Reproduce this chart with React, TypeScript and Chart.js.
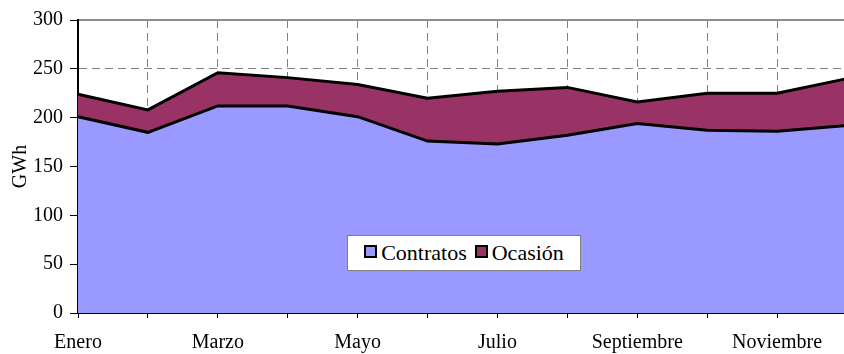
import React, { useEffect, useRef } from "react";
import { Chart, registerables } from "chart.js";

Chart.register(...registerables);

const months = [
  "Enero", "Febrero", "Marzo", "Abril", "Mayo", "Junio",
  "Julio", "Agosto", "Septiembre", "Octubre", "Noviembre", "Diciembre",
];
const contratos = [201, 185, 212, 212, 201, 176, 173, 182, 194, 187, 186, 192];
const ocasion = [23, 23, 34, 29, 33, 44, 54, 49, 22, 38, 39, 48];
const yTicks = [0, 50, 100, 150, 200, 250, 300];

const FONT = "'Liberation Serif', 'Times New Roman', serif";
const BLUE = "#9999FF";
const MAROON = "#993366";

export default function App() {
  const ref = useRef<HTMLCanvasElement | null>(null);

  useEffect(() => {
    if (!ref.current) return;
    const chart = new Chart(ref.current, {
      type: "line",
      data: {
        labels: months,
        datasets: [
          {
            label: "Contratos",
            data: contratos,
            backgroundColor: BLUE,
            borderColor: "#000000",
            borderWidth: 3,
            pointRadius: 0,
            fill: "origin",
            tension: 0,
          },
          {
            label: "Ocasión",
            data: ocasion,
            backgroundColor: MAROON,
            borderColor: "#000000",
            borderWidth: 3,
            pointRadius: 0,
            fill: "-1",
            tension: 0,
          },
        ],
      },
      options: {
        animation: false,
        responsive: true,
        maintainAspectRatio: false,
        layout: { padding: { left: 0, right: 12, top: 0, bottom: 0 } },
        plugins: { legend: { display: false }, tooltip: { enabled: false } },
        scales: {
          x: {
            type: "category",
            position: "bottom",
            offset: false,
            grid: {
              display: true,
              color: "#808080",
              lineWidth: 1,
              offset: false,
              drawTicks: true,
              tickLength: 5,
              tickColor: "#000000",
              tickBorderDash: [],
            },
            border: { display: true, color: "#000000", width: 2, dash: [8, 5] },
            ticks: {
              autoSkip: false,
              maxRotation: 0,
              minRotation: 0,
              padding: 13,
              color: "#000000",
              font: { family: FONT, size: 20 },
              callback: (_v: any, i: number) => (i % 2 === 0 ? months[i] : ""),
            },
            afterFit: (s: any) => {
              s.height = 41;
            },
          },
          x2: {
            type: "category",
            position: "top",
            labels: months,
            offset: false,
            grid: { display: false, drawTicks: false },
            ticks: { display: false },
            border: { display: true, color: "#8c8c8c", width: 2 },
            afterFit: (s: any) => {
              s.height = 20;
            },
          },
          y: {
            stacked: true,
            min: 0,
            max: 300,
            afterBuildTicks: (s: any) => {
              s.ticks = yTicks.map((v) => ({ value: v }));
            },
            grid: {
              color: "#808080",
              lineWidth: 1,
              drawTicks: true,
              tickLength: 8,
              tickColor: "#000000",
              tickBorderDash: [],
            },
            border: { display: true, color: "#000000", width: 2, dash: [8, 5] },
            ticks: {
              padding: 7,
              color: "#000000",
              font: { family: FONT, size: 20 },
            },
            title: {
              display: true,
              text: "GWh",
              color: "#000000",
              font: { family: FONT, size: 20 },
              padding: { top: 9, bottom: 0 },
            },
            afterFit: (s: any) => {
              s.width = 78;
            },
          },
        },
      },
    });
    return () => chart.destroy();
  }, []);

  const box = (color: string) => (
    <span
      style={{
        display: "inline-block",
        width: 9,
        height: 9,
        border: "2px solid #000",
        background: color,
        marginRight: 4,
        verticalAlign: "middle",
        position: "relative",
        top: -2,
      }}
    />
  );

  return (
    <div
      style={{
        position: "fixed",
        left: 0,
        top: 0,
        width: 844,
        height: 354,
        overflow: "hidden",
        background: "#fff",
      }}
    >
      <div style={{ position: "absolute", left: 0, top: 0, width: 860, height: 354 }}>
        <canvas ref={ref} />
      </div>
      <div
        style={{
          position: "absolute",
          left: 347,
          top: 235,
          width: 232,
          height: 34,
          border: "1px solid #808080",
          background: "#ffffff",
          fontFamily: FONT,
          fontSize: 22,
          color: "#000",
          display: "flex",
          alignItems: "center",
          justifyContent: "center",
          whiteSpace: "nowrap",
          boxSizing: "content-box",
        }}
      >
        {box(BLUE)}
        <span style={{ marginRight: 8 }}>Contratos</span>
        {box(MAROON)}
        <span>Ocasión</span>
      </div>
    </div>
  );
}
